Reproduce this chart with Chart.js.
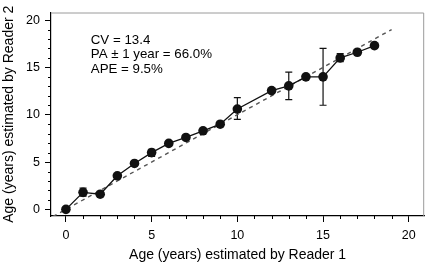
<!DOCTYPE html>
<html>
<head>
<meta charset="utf-8">
<script src="https://cdn.jsdelivr.net/npm/chart.js@4"></script>
<style>
html,body{margin:0;padding:0;background:#fff;}
#wrap{width:429px;height:264px;position:relative;}
</style>
</head>
<body>
<div id="wrap"><canvas id="c" width="429" height="264"></canvas></div>
<script>
const reader1Ages = [0, 1, 2, 3, 4, 5, 6, 7, 8, 9, 10, 12, 13, 14, 15, 16, 17, 18];
const reader2Means = [0, 1.8, 1.6, 3.55, 4.85, 6.0, 6.97, 7.6, 8.3, 9.0, 10.6, 12.55, 13.05, 14.0, 14.0, 16.0, 16.6, 17.3];
const errLow  = [null, 1.4, null, null, null, 5.6, null, null, null, null, 9.5, null, 11.6, null, 11.0, 15.6, null, null];
const errHigh = [null, 2.25, null, null, null, 6.35, null, null, null, null, 11.8, null, 14.5, null, 17.0, 16.45, null, null];
const oneToOne = [-0.75, 19];
const tickValues = [0, 5, 10, 15, 20];
const statsText = ["CV = 13.4", "PA \u00B1 1 year = 66.0%", "APE = 9.5%"];

const FONT = "'Liberation Sans', Arial, Helvetica, sans-serif";

const extras = {
  id: 'extras',
  beforeDatasetsDraw(chart) {
    const ctx = chart.ctx, xs = chart.scales.x, ys = chart.scales.y, a = chart.chartArea;
    ctx.save();
    ctx.strokeStyle = '#9a9a9a';
    ctx.lineWidth = 1;
    ctx.beginPath();
    ctx.moveTo(a.left, a.top + 0.5);
    ctx.lineTo(a.right - 0.5, a.top + 0.5);
    ctx.lineTo(a.right - 0.5, a.bottom);
    ctx.stroke();
    ctx.strokeStyle = '#000';
    ctx.lineWidth = 1;
    ctx.beginPath();
    for (let v = 0; v <= 20; v++) {
      if (v % 5 === 0) continue;
      const px = Math.round(xs.getPixelForValue(v)) + 0.5;
      ctx.moveTo(px, a.bottom); ctx.lineTo(px, a.bottom + 3);
      const py = Math.round(ys.getPixelForValue(v)) + 0.5;
      ctx.moveTo(a.left, py); ctx.lineTo(a.left - 3, py);
    }
    ctx.stroke();
    ctx.strokeStyle = '#111';
    ctx.lineWidth = 1.2;
    ctx.beginPath();
    for (let i = 0; i < reader1Ages.length; i++) {
      if (errLow[i] == null) continue;
      const px = xs.getPixelForValue(reader1Ages[i]);
      const y1 = ys.getPixelForValue(errLow[i]);
      const y2 = ys.getPixelForValue(errHigh[i]);
      ctx.moveTo(px, y1); ctx.lineTo(px, y2);
      ctx.moveTo(px - 3.5, y1); ctx.lineTo(px + 3.5, y1);
      ctx.moveTo(px - 3.5, y2); ctx.lineTo(px + 3.5, y2);
    }
    ctx.stroke();
    ctx.fillStyle = '#000';
    ctx.font = '13.3px ' + FONT;
    ctx.textBaseline = 'middle';
    ctx.textAlign = 'left';
    const tx = xs.getPixelForValue(1.45);
    const ty = ys.getPixelForValue(17.9);
    statsText.forEach((t, i) => ctx.fillText(t, tx, ty + i * 14.5));
    ctx.restore();
  }
};

new Chart(document.getElementById('c'), {
  type: 'scatter',
  data: {
    datasets: [
      {
        data: reader1Ages.map((x, i) => ({x, y: reader2Means[i]})),
        showLine: true,
        borderColor: '#111',
        borderWidth: 1.3,
        backgroundColor: '#111',
        pointBackgroundColor: '#111',
        pointBorderColor: '#111',
        pointRadius: 4.8,
        pointBorderWidth: 0,
        order: 1
      },
      {
        data: oneToOne.map(v => ({x: v, y: v})),
        showLine: true,
        borderColor: '#555',
        borderWidth: 1.4,
        borderDash: [4, 4],
        pointRadius: 0,
        order: 2
      }
    ]
  },
  options: {
    responsive: false,
    animation: false,
    devicePixelRatio: 1,
    layout: {padding: {left: 0, top: 4, right: 2, bottom: 0}},
    plugins: {legend: {display: false}, tooltip: {enabled: false}},
    scales: {
      x: {
        type: 'linear',
        min: -0.87, max: 20.9,
        afterBuildTicks(s) { s.ticks = tickValues.map(v => ({value: v})); },
        afterFit(s) { s.height = 48; },
        grid: {display: true, drawOnChartArea: false, drawTicks: true, tickLength: 6, color: '#000', tickWidth: 1},
        border: {display: true, color: '#000', width: 1.2},
        ticks: {color: '#000', font: {family: FONT, size: 12.5}, padding: 6, maxRotation: 0},
        title: {display: true, text: 'Age (years) estimated by Reader 1', color: '#000', font: {family: FONT, size: 14}, padding: {top: 0, bottom: 0}}
      },
      y: {
        type: 'linear',
        min: -0.7, max: 20.8,
        afterBuildTicks(s) { s.ticks = tickValues.map(v => ({value: v})); },
        afterFit(s) { s.width = 51; },
        grid: {display: true, drawOnChartArea: false, drawTicks: true, tickLength: 6, color: '#000', tickWidth: 1},
        border: {display: true, color: '#000', width: 1.2},
        ticks: {color: '#000', font: {family: FONT, size: 12.5}, padding: 5},
        title: {display: true, text: 'Age (years) estimated by Reader 2', color: '#000', font: {family: FONT, size: 14}, padding: {top: 1, bottom: 0}}
      }
    }
  },
  plugins: [extras]
});
</script>
</body>
</html>
